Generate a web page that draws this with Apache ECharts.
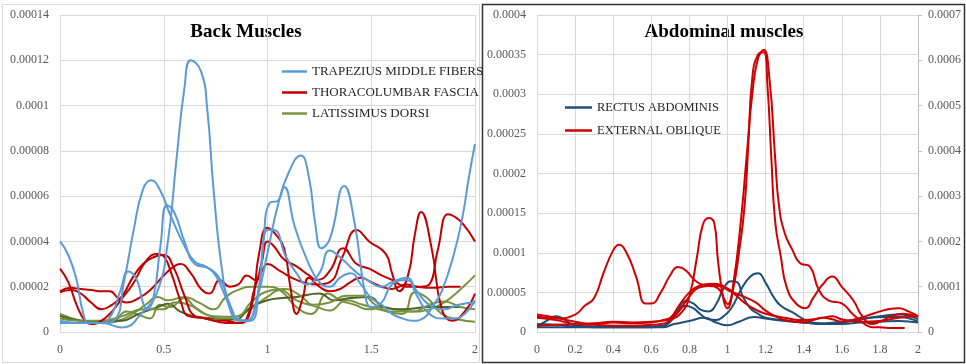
<!DOCTYPE html>
<html>
<head>
<meta charset="utf-8">
<script src="https://cdn.jsdelivr.net/npm/echarts/dist/echarts.min.js"></script>
<style>
  html, body { margin: 0; padding: 0; background: #fff; }
  #chart { width: 966px; height: 364px; }
</style>
</head>
<body>
<div id="chart"></div>
<script>
// Values are given as [time, amplitude] with amplitude in units of 1e-5.
const UNIT = 1e-5;

// ---- Back muscles ----
const trapezius1 = [[0,0.5],[0.1,0.4],[0.2,0.4],[0.3,0.2],[0.4,0.9],[0.47,1.8],[0.52,4.0],[0.56,7.5],[0.6,10.8],[0.63,12.0],[0.68,11.5],[0.71,9.8],[0.74,6.3],[0.78,2.8],[0.82,1.0],[0.86,0.5],[0.9,0.5],[0.95,1.5],[1.0,3.5],[1.05,5.6],[1.1,7.0],[1.16,7.8],[1.2,6.8],[1.23,4.8],[1.26,3.7],[1.3,4.1],[1.37,6.45],[1.42,4.8],[1.47,1.7],[1.5,1.1],[1.55,1.3],[1.6,2.1],[1.67,2.3],[1.72,1.6],[1.78,0.8],[1.85,0.6],[1.9,0.6],[1.95,0.8],[2.0,1.4]];
const trapezius2 = [[0,0.4],[0.1,0.4],[0.2,0.4],[0.26,0.5],[0.31,2.3],[0.355,4.5],[0.4,6.3],[0.44,6.7],[0.48,6.3],[0.53,5.2],[0.6,3.8],[0.65,3.1],[0.7,2.9],[0.75,2.5],[0.8,1.5],[0.85,0.6],[0.9,0.5],[0.95,1.5],[0.98,4.0],[1.01,5.7],[1.05,5.8],[1.08,6.4],[1.13,4.7],[1.19,3.2],[1.25,2.2],[1.3,2.0],[1.35,2.4],[1.4,2.6],[1.45,2.1],[1.5,1.5],[1.55,1.2],[1.6,0.8],[1.65,0.6],[1.7,0.5],[1.75,0.6],[1.8,1.2],[1.84,1.8],[1.9,3.5],[1.94,5.1],[1.97,6.8],[2.0,8.3]];
const trapezius3 = [[0,4.0],[0.04,3.4],[0.08,2.3],[0.11,0.9],[0.14,0.4],[0.2,0.4],[0.25,0.8],[0.29,1.8],[0.33,2.67],[0.37,2.3],[0.4,1.3],[0.42,1.0],[0.45,1.5],[0.484,3.8],[0.516,5.6],[0.55,5.3],[0.6,4.0],[0.65,3.0],[0.72,2.8],[0.78,2.2],[0.82,1.2],[0.87,0.5],[0.92,0.5],[0.96,2.0],[1.0,4.5],[1.03,4.5],[1.09,3.3],[1.14,2.6],[1.19,2.1],[1.25,2.6],[1.3,3.6],[1.35,3.3],[1.42,2.7],[1.48,2.3],[1.55,2.0],[1.6,2.2],[1.67,2.4],[1.72,1.8],[1.78,1.2],[1.85,1.0],[1.92,1.2],[2.0,1.3]];

const thoracolumbar1 = [[0,2.8],[0.04,2.2],[0.08,1.2],[0.12,0.5],[0.15,0.35],[0.2,0.5],[0.25,0.9],[0.3,1.5],[0.35,2.1],[0.42,3.2],[0.47,3.45],[0.5,3.35],[0.54,2.5],[0.58,1.4],[0.62,0.7],[0.7,0.6],[0.8,0.4],[0.87,0.4],[0.92,1.0],[0.96,3.5],[1.0,4.6],[1.04,4.3],[1.08,3.7],[1.11,2.0],[1.14,0.8],[1.17,1.5],[1.2,2.4],[1.25,2.0],[1.3,1.8],[1.35,1.9],[1.4,2.2],[1.45,2.4],[1.5,2.2],[1.55,2.0],[1.6,1.9],[1.67,2.1],[1.72,2.0],[1.8,1.95],[1.87,2.0],[1.93,2.0]];
const thoracolumbar2 = [[0,1.8],[0.05,1.95],[0.1,1.9],[0.15,1.85],[0.2,1.8],[0.24,1.8],[0.28,1.5],[0.32,1.3],[0.38,1.5],[0.44,1.9],[0.5,2.5],[0.55,2.9],[0.58,3.0],[0.63,2.6],[0.68,1.9],[0.72,1.7],[0.77,2.3],[0.82,2.0],[0.86,2.1],[0.9,2.5],[0.94,2.3],[0.97,3.0],[1.0,4.0],[1.03,3.8],[1.08,3.2],[1.14,2.9],[1.2,2.5],[1.24,2.3],[1.3,2.7],[1.365,3.7],[1.43,3.0],[1.49,2.8],[1.55,2.5],[1.6,2.3],[1.67,2.0],[1.74,2.0],[1.78,2.1],[1.82,3.6],[1.87,5.2],[1.9,5.1],[1.94,4.8],[2.0,4.0]];
const thoracolumbar3 = [[0,1.75],[0.05,1.85],[0.1,1.7],[0.15,1.3],[0.2,1.0],[0.25,1.2],[0.3,1.6],[0.35,2.4],[0.4,3.0],[0.45,3.3],[0.5,3.4],[0.55,2.8],[0.6,1.6],[0.65,0.7],[0.7,0.6],[0.75,0.5],[0.8,0.5],[0.86,0.4],[0.9,0.6],[0.94,2.0],[0.98,2.8],[1.0,3.0],[1.06,2.7],[1.14,2.3],[1.24,2.1],[1.3,2.2],[1.36,3.3],[1.43,4.5],[1.49,4.0],[1.57,3.45],[1.6,2.6],[1.635,1.8],[1.68,2.6],[1.71,4.3],[1.74,5.3],[1.79,3.75],[1.84,1.0],[1.89,0.5],[1.95,0.9],[2.0,1.7]];

const latissimus1 = [[0,0.8],[0.1,0.5],[0.2,0.4],[0.28,0.5],[0.35,0.8],[0.42,1.26],[0.47,1.55],[0.52,1.4],[0.6,1.55],[0.67,1.3],[0.74,1.0],[0.8,1.55],[0.87,1.9],[0.93,2.0],[1.0,2.0],[1.06,1.85],[1.14,1.1],[1.21,0.8],[1.29,1.7],[1.35,1.4],[1.42,1.2],[1.49,1.0],[1.55,1.1],[1.62,1.0],[1.7,0.9],[1.78,1.0],[1.85,1.3],[1.92,1.8],[2.0,2.5]];
const latissimus2 = [[0,0.75],[0.1,0.5],[0.2,0.45],[0.26,0.5],[0.32,0.9],[0.38,0.75],[0.435,0.6],[0.48,1.2],[0.53,1.1],[0.6,1.5],[0.65,1.1],[0.74,0.7],[0.84,0.67],[0.9,0.9],[0.96,1.3],[1.0,1.55],[1.06,1.85],[1.14,1.4],[1.24,1.1],[1.3,0.95],[1.38,1.4],[1.46,1.2],[1.56,0.95],[1.65,0.8],[1.71,1.76],[1.77,1.5],[1.84,0.8],[1.92,0.55],[2.0,0.45]];
const latissimus3 = [[0,0.7],[0.1,0.5],[0.2,0.45],[0.3,0.5],[0.38,0.8],[0.47,1.1],[0.52,1.25],[0.58,0.9],[0.66,0.67],[0.74,0.6],[0.84,0.55],[0.92,1.1],[1.0,1.4],[1.07,1.5],[1.14,1.55],[1.25,1.7],[1.32,1.4],[1.4,1.5],[1.49,1.55],[1.56,1.1],[1.65,1.0],[1.78,1.1],[1.93,1.1]];
const latissimus4 = [[0,0.6],[0.1,0.5],[0.2,0.5],[0.3,0.7],[0.4,1.0],[0.5,1.0],[0.55,1.3],[0.62,1.2],[0.7,0.8],[0.78,0.6],[0.86,0.7],[0.92,1.3],[1.0,1.8],[1.08,1.9],[1.16,1.6],[1.22,1.2],[1.3,1.3],[1.38,1.6],[1.46,1.6],[1.52,1.2],[1.6,0.9],[1.7,0.9],[1.78,1.2],[1.85,1.35],[1.93,1.1],[2.0,1.0]];

// ---- Abdominal muscles ----
const rectus1 = [[0,0.7],[0.05,1.4],[0.1,2.0],[0.15,1.5],[0.2,0.8],[0.3,0.7],[0.4,0.7],[0.5,0.7],[0.6,0.7],[0.66,0.8],[0.7,1.5],[0.74,2.8],[0.78,3.9],[0.82,3.6],[0.86,2.8],[0.9,2.6],[0.94,3.5],[0.98,5.5],[1.02,6.4],[1.05,6.3],[1.08,4.5],[1.12,3.0],[1.16,2.3],[1.2,1.8],[1.3,1.5],[1.4,1.2],[1.5,1.0],[1.6,1.2],[1.7,1.6],[1.8,2.0],[1.9,2.2],[2.0,1.6]];
const rectus2 = [[0,1.0],[0.1,0.9],[0.2,0.7],[0.3,0.6],[0.4,0.6],[0.5,0.6],[0.6,0.6],[0.66,0.7],[0.7,1.3],[0.74,2.5],[0.78,3.3],[0.82,3.0],[0.86,2.2],[0.9,1.6],[0.94,1.5],[0.98,2.0],[1.02,3.0],[1.07,5.3],[1.12,7.0],[1.16,7.4],[1.2,6.2],[1.24,4.5],[1.28,3.3],[1.34,2.5],[1.41,1.5],[1.48,1.1],[1.56,1.2],[1.66,1.5],[1.75,1.8],[1.83,1.9],[1.9,1.9],[2.0,1.3]];
const rectus3 = [[0,0.6],[0.1,0.6],[0.2,0.6],[0.3,0.6],[0.4,0.6],[0.5,0.6],[0.6,0.6],[0.66,0.6],[0.72,1.0],[0.8,1.4],[0.88,1.8],[0.94,1.2],[1.0,0.85],[1.06,1.3],[1.14,1.9],[1.2,1.7],[1.3,1.4],[1.4,1.2],[1.5,1.0],[1.6,1.0],[1.7,1.2],[1.8,1.3],[1.9,1.4],[2.0,1.2]];

const oblique1 = [[0,2.0],[0.1,1.7],[0.2,2.2],[0.25,3.3],[0.3,4.3],[0.35,7.5],[0.4,10.3],[0.43,11.0],[0.47,10.0],[0.52,7.0],[0.57,3.6],[0.6,3.6],[0.65,5.0],[0.7,7.2],[0.74,8.2],[0.78,7.8],[0.83,6.5],[0.88,6.0],[0.93,6.1],[0.97,5.9],[1.0,5.3],[1.05,4.8],[1.1,4.3],[1.15,3.7],[1.2,2.7],[1.25,2.0],[1.3,1.5],[1.35,1.3],[1.4,1.2],[1.45,1.5],[1.5,1.8],[1.55,1.6],[1.6,1.3],[1.65,1.5],[1.7,1.8],[1.75,2.2],[1.8,2.6],[1.85,2.9],[1.9,3.0],[1.95,2.6],[2.0,2.0]];
const oblique2 = [[0,0.8],[0.1,0.9],[0.2,1.0],[0.3,1.1],[0.4,1.3],[0.5,1.2],[0.6,1.3],[0.7,1.6],[0.76,2.5],[0.8,4.5],[0.84,9.5],[0.87,13.5],[0.9,14.4],[0.93,13.8],[0.95,9.0],[0.98,4.0],[1.0,3.0],[1.03,6.0],[1.07,14.0],[1.1,22.0],[1.13,30.0],[1.16,34.5],[1.19,35.6],[1.22,32.0],[1.25,22.0],[1.27,16.0],[1.3,12.5],[1.34,10.4],[1.38,8.7],[1.43,8.3],[1.48,5.3],[1.53,4.0],[1.6,3.6],[1.66,2.2],[1.72,1.0],[1.76,0.6],[1.8,0.6],[1.86,0.5],[1.93,0.5]];
const oblique3 = [[0,1.8],[0.1,1.5],[0.2,1.0],[0.3,0.9],[0.4,0.8],[0.5,0.8],[0.6,0.9],[0.65,1.0],[0.7,1.5],[0.75,2.8],[0.8,4.5],[0.85,5.6],[0.9,5.8],[0.95,5.5],[0.98,4.3],[1.0,3.5],[1.03,5.5],[1.06,10.0],[1.09,16.0],[1.11,24.0],[1.13,32.0],[1.16,35.0],[1.19,35.3],[1.21,31.0],[1.23,22.0],[1.25,14.0],[1.28,9.5],[1.31,5.7],[1.36,3.6],[1.41,3.0],[1.45,4.3],[1.5,6.0],[1.55,7.0],[1.6,5.7],[1.66,4.0],[1.71,1.9],[1.76,1.0],[1.8,1.3],[1.86,2.0],[1.92,2.3],[2.0,1.9]];
const oblique4 = [[0,2.2],[0.1,1.8],[0.2,1.3],[0.3,1.0],[0.4,1.2],[0.5,1.1],[0.6,1.2],[0.66,1.5],[0.7,1.8],[0.75,3.5],[0.8,5.0],[0.85,5.8],[0.9,6.0],[0.95,5.8],[1.0,5.5],[1.05,4.5],[1.1,3.5],[1.15,2.8],[1.2,2.3],[1.3,1.8],[1.4,1.5],[1.5,1.8],[1.55,2.0],[1.6,1.6],[1.7,1.3],[1.8,1.4],[1.9,1.8],[2.0,2.0]];

const NAMES = {
  trap: 'TRAPEZIUS MIDDLE FIBERS',
  thor: 'THORACOLUMBAR FASCIA',
  lat: 'LATISSIMUS DORSI',
  rect: 'RECTUS ABDOMINIS',
  obl: 'EXTERNAL OBLIQUE'
};
const COLORS = {
  trap: '#5b9bd5',
  thor: '#c00000',
  lat: '#77933c',
  latDark: '#4f6228',
  rect: '#1f4e79',
  obl: '#d00000'
};

const SERIF = "'Liberation Serif', 'Times New Roman', serif";
const GRID_COLOR = '#d9d9d9';
const LABEL_COLOR = '#595959';

function line(name, pts, color, xi, yi) {
  return {
    type: 'line',
    name: name,
    data: pts.map(([t, u]) => [t, u * UNIT]),
    xAxisIndex: xi,
    yAxisIndex: yi,
    smooth: 0.5,
    symbol: 'none',
    lineStyle: { color: color, width: 2 },
    itemStyle: { color: color },
    emphasis: { disabled: true }
  };
}

function fmt(v) { return String(+v.toPrecision(6)); }

const labelStyle = { color: LABEL_COLOR, fontFamily: SERIF, fontSize: 12 };

const chart = echarts.init(document.getElementById('chart'), null, { renderer: 'canvas' });

chart.setOption({
  animation: false,
  backgroundColor: '#fff',
  grid: [
    { left: 60, top: 15, width: 415, height: 317 },
    { left: 537, top: 15, width: 381, height: 317 }
  ],
  xAxis: [
    { gridIndex: 0, type: 'value', min: 0, max: 2, interval: 0.5,
      axisLine: { show: true, lineStyle: { color: GRID_COLOR } },
      axisTick: { show: false },
      axisLabel: Object.assign({ margin: 12, formatter: fmt }, labelStyle),
      splitLine: { show: true, lineStyle: { color: GRID_COLOR, width: 1 } } },
    { gridIndex: 1, type: 'value', min: 0, max: 2, interval: 0.2,
      axisLine: { show: true, lineStyle: { color: GRID_COLOR } },
      axisTick: { show: false },
      axisLabel: Object.assign({ margin: 12, formatter: fmt }, labelStyle),
      splitLine: { show: true, lineStyle: { color: GRID_COLOR, width: 1 } } }
  ],
  yAxis: [
    { gridIndex: 0, type: 'value', min: 0, max: 0.00014, interval: 0.00002,
      axisLine: { show: false }, axisTick: { show: false },
      axisLabel: Object.assign({ margin: 11, formatter: fmt }, labelStyle),
      splitLine: { show: true, lineStyle: { color: GRID_COLOR, width: 1 } } },
    { gridIndex: 1, type: 'value', position: 'left', min: 0, max: 0.0004, interval: 0.00005,
      axisLine: { show: false }, axisTick: { show: false },
      axisLabel: Object.assign({ margin: 11, formatter: fmt }, labelStyle),
      splitLine: { show: true, lineStyle: { color: GRID_COLOR, width: 1 } } },
    { gridIndex: 1, type: 'value', position: 'right', min: 0, max: 0.0007, interval: 0.0001,
      axisLine: { show: true, lineStyle: { color: '#bfbfbf' } },
      axisTick: { show: true, inside: false, length: 4, lineStyle: { color: '#bfbfbf' } },
      axisLabel: Object.assign({ margin: 10, formatter: fmt }, labelStyle),
      splitLine: { show: false } }
  ],
  legend: [
    { orient: 'vertical', left: 277, top: 60, itemWidth: 25, itemHeight: 2.5, itemGap: 8,
      icon: 'rect', selectedMode: false,
      data: [NAMES.trap, NAMES.thor, NAMES.lat],
      textStyle: { color: '#262626', fontFamily: SERIF, fontSize: 13 } },
    { orient: 'vertical', left: 560, top: 96, itemWidth: 27, itemHeight: 2.5, itemGap: 10,
      icon: 'rect', selectedMode: false,
      data: [NAMES.rect, NAMES.obl],
      textStyle: { color: '#262626', fontFamily: SERIF, fontSize: 12.5 } }
  ],
  graphic: [
    { type: 'rect', silent: true, z: -1,
      shape: { x: 2.5, y: 4.5, width: 477, height: 358 },
      style: { fill: 'none', stroke: '#d9d9d9', lineWidth: 1 } },
    { type: 'rect', silent: true, z: -1,
      shape: { x: 482.5, y: 4.5, width: 482, height: 358 },
      style: { fill: 'none', stroke: '#333333', lineWidth: 1.5 } },
    { type: 'text', x: 246, y: 32, silent: true,
      style: { text: 'Back Muscles', fill: '#000', fontFamily: SERIF, fontWeight: 'bold', fontSize: 19,
               textAlign: 'center', textVerticalAlign: 'middle' } },
    { type: 'text', x: 724, y: 32, silent: true,
      style: { text: 'Abdominal muscles', fill: '#000', fontFamily: SERIF, fontWeight: 'bold', fontSize: 19,
               textAlign: 'center', textVerticalAlign: 'middle' } }
  ],
  series: [
    line(NAMES.lat, latissimus1, COLORS.lat, 0, 0),
    line(NAMES.lat, latissimus2, COLORS.lat, 0, 0),
    line(NAMES.lat, latissimus3, COLORS.latDark, 0, 0),
    line(NAMES.lat, latissimus4, COLORS.lat, 0, 0),
    line(NAMES.thor, thoracolumbar1, COLORS.thor, 0, 0),
    line(NAMES.thor, thoracolumbar2, COLORS.thor, 0, 0),
    line(NAMES.thor, thoracolumbar3, COLORS.thor, 0, 0),
    line(NAMES.trap, trapezius1, COLORS.trap, 0, 0),
    line(NAMES.trap, trapezius2, COLORS.trap, 0, 0),
    line(NAMES.trap, trapezius3, COLORS.trap, 0, 0),
    line(NAMES.rect, rectus1, COLORS.rect, 1, 1),
    line(NAMES.rect, rectus2, COLORS.rect, 1, 1),
    line(NAMES.rect, rectus3, COLORS.rect, 1, 1),
    line(NAMES.obl, oblique1, COLORS.obl, 1, 1),
    line(NAMES.obl, oblique2, COLORS.obl, 1, 1),
    line(NAMES.obl, oblique3, COLORS.obl, 1, 1),
    line(NAMES.obl, oblique4, COLORS.obl, 1, 1)
  ]
});
</script>
</body>
</html>
